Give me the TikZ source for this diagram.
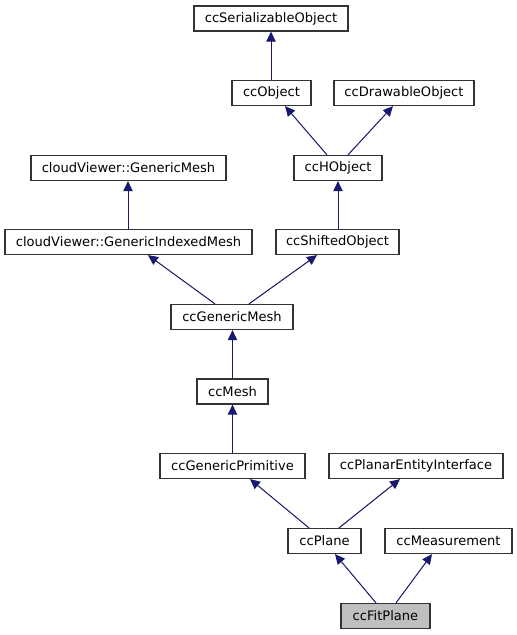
\documentclass[tikz,border=0pt]{standalone}
\usepackage{fontspec}
\setmainfont{DejaVu Sans}
\usetikzlibrary{arrows.meta,calc}
\definecolor{edgecol}{HTML}{191970}
\definecolor{boxcol}{HTML}{333333}
\definecolor{hilite}{HTML}{BFBFBF}
\begin{document}
\begin{tikzpicture}[x=0.75pt,y=-0.75pt,
  cls/.style={draw=boxcol,line width=0.9pt,fill=white,inner sep=0pt,minimum height=25*0.75pt,
    font=\fontsize{9.8}{11}\selectfont,text=black},
  edge/.style={draw=edgecol,line width=0.75pt,-{Triangle[length=7.5pt,width=7pt]},fill=edgecol}]
\useasboundingbox (0,0) rectangle (517,635);
\node[cls,minimum width=154*0.75pt] (ser) at (271,18.5) {ccSerializableObject};
\node[cls,minimum width=79*0.75pt] (obj) at (271.5,93) {ccObject};
\node[cls,minimum width=140*0.75pt] (drw) at (404,93) {ccDrawableObject};
\node[cls,minimum width=195*0.75pt] (gmesh) at (128.5,168) {cloudViewer::GenericMesh};
\node[cls,minimum width=88*0.75pt] (hobj) at (338,168) {ccHObject};
\node[cls,minimum width=247*0.75pt] (gimesh) at (128.5,242) {cloudViewer::GenericIndexedMesh};
\node[cls,minimum width=123*0.75pt] (shift) at (337.5,242) {ccShiftedObject};
\node[cls,minimum width=122*0.75pt] (genmesh) at (232,317) {ccGenericMesh};
\node[cls,minimum width=71*0.75pt] (mesh) at (232.5,391.5) {ccMesh};
\node[cls,minimum width=145*0.75pt] (prim) at (232.5,466) {ccGenericPrimitive};
\node[cls,minimum width=174*0.75pt] (planar) at (416,466) {ccPlanarEntityInterface};
\node[cls,minimum width=73*0.75pt] (plane) at (324.5,541) {ccPlane};
\node[cls,minimum width=127*0.75pt] (meas) at (448.5,541) {ccMeasurement};
\node[cls,minimum width=89*0.75pt,fill=hilite] (fit) at (385.5,616) {ccFitPlane};

\draw[edge] ($(obj.north)+(-0.5,0)$) -- (ser.south);
\draw[edge] ($(hobj.north)+(-11,0)$) -- ($(obj.south)+(13.5,0)$);
\draw[edge] ($(hobj.north)+(10,0)$) -- ($(drw.south)+(-11,0)$);
\draw[edge] ($(gimesh.north)+(-0.5,0)$) -- ($(gmesh.south)+(-0.5,0)$);
\draw[edge] ($(shift.north)+(0.5,0)$) -- (hobj.south);
\draw[edge] ($(genmesh.north)+(-17,0)$) -- ($(gimesh.south)+(19.5,0)$);
\draw[edge] ($(genmesh.north)+(17,0)$) -- ($(shift.south)+(-20.5,0)$);
\draw[edge] (mesh.north) -- ($(genmesh.south)+(0.5,0)$);
\draw[edge] (prim.north) -- (mesh.south);
\draw[edge] ($(plane.north)+(-15.5,0)$) -- ($(prim.south)+(17.5,0)$);
\draw[edge] ($(plane.north)+(14.5,0)$) -- ($(planar.south)+(-16,0)$);
\draw[edge] ($(fit.north)+(-9.5,0)$) -- ($(plane.south)+(10.5,0)$);
\draw[edge] ($(fit.north)+(10.5,0)$) -- ($(meas.south)+(-16.5,0)$);
\end{tikzpicture}
\end{document}
